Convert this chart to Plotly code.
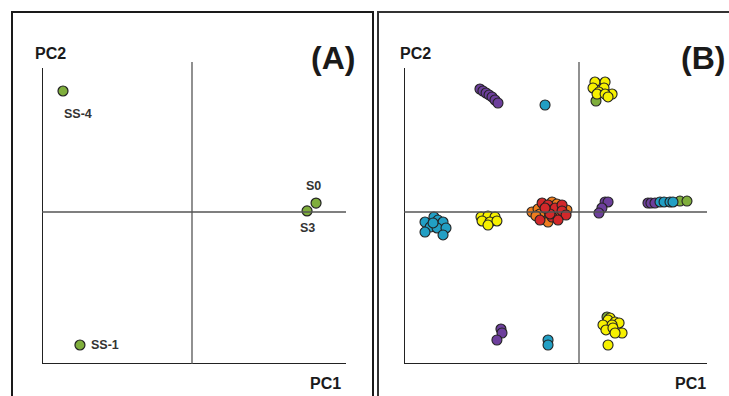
import plotly.graph_objects as go

W, H = 729, 396

# ---------------- Panel A data (PCA scores) ----------------
a_labels = ["SS-4", "SS-1", "S0", "S3"]
a_pc1 = [-0.86, -0.747, 0.827, 0.767]
a_pc2 = [0.796, -0.875, 0.059, 0.007]

# ---------------- Panel B data (PCA scores by group colour) ----------------
b_green_pc1 = [0.097, 0.16, 0.577, 0.617]
b_green_pc2 = [0.730, -0.691, 0.072, 0.072]

b_purple_pc1 = [-0.566, -0.549, -0.531, -0.514, -0.497, -0.48, -0.463,
                0.149, 0.166, 0.131, 0.114,
                0.394, 0.411, 0.434,
                -0.446, -0.44, -0.469]
b_purple_pc2 = [0.809, 0.796, 0.783, 0.770, 0.757, 0.737, 0.717,
                0.066, 0.066, 0.026, -0.007,
                0.059, 0.059, 0.059,
                -0.77, -0.796, -0.842]

b_cyan_pc1 = [-0.194,
              -0.88, -0.829, -0.806, -0.777, -0.851, -0.811, -0.76, -0.88, -0.777, -0.834,
              0.463, 0.486, 0.52, 0.537,
              -0.177, -0.177]
b_cyan_pc2 = [0.704,
              -0.066, -0.033, -0.053, -0.066, -0.099, -0.105, -0.105, -0.132, -0.151, -0.072,
              0.066, 0.066, 0.066, 0.066,
              -0.842, -0.875]

b_yellow_pc1 = [0.091, 0.149, 0.08, 0.143, 0.114, 0.189, 0.103, 0.149, 0.166,
                -0.56, -0.52, -0.48, -0.554, -0.509, -0.469, -0.52,
                0.177, 0.166, 0.206, 0.229, 0.137, 0.189, 0.154, 0.194, 0.246, 0.206, 0.166]
b_yellow_pc2 = [0.855, 0.855, 0.816, 0.816, 0.789, 0.776, 0.776, 0.776, 0.757,
                -0.033, -0.026, -0.033, -0.059, -0.066, -0.059, -0.086,
                -0.697, -0.711, -0.724, -0.730, -0.743, -0.743, -0.776, -0.763, -0.796, -0.796, -0.875]

b_orange_pc1 = [-0.269, -0.234, -0.194, -0.154, -0.126, -0.206, -0.177, -0.223, -0.109, -0.069, -0.246]
b_orange_pc2 = [0.0, 0.02, 0.0, 0.066, 0.053, -0.046, -0.066, -0.013, -0.007, 0.013, -0.026]

b_red_pc1 = [-0.211, -0.177, -0.137, -0.097, -0.097, -0.074, -0.154, -0.12, -0.166, -0.223, -0.194]
b_red_pc2 = [0.059, 0.046, 0.026, 0.046, 0.007, -0.020, -0.033, -0.053, -0.013, -0.053, 0.026]

panel_titles = ["(A)", "(B)"]
axis_names = ["PC1", "PC2"]

# ---------------- styling ----------------
GREEN = "#7fae3c"
PURPLE = "#6d3f9c"
CYAN = "#229fc4"
YELLOW = "#f6f000"
ORANGE = "#ef7d1e"
RED = "#d2282a"
EDGE = "#222222"
AXC = "#222222"
CTR = "#555555"

fig = go.Figure()

def px_x(p):
    return p / W

def px_y(p):
    return 1 - p / H

# axis layout
xa_range = [-1.0, 1.0267]
xb_range = [-1.0, 0.7314]
y_range = [-1.0, 0.9868]
y_axis_top = 0.947

fig.update_layout(
    width=W, height=H,
    margin=dict(l=0, r=0, t=0, b=0),
    paper_bgcolor="white", plot_bgcolor="rgba(0,0,0,0)",
    showlegend=False,
    xaxis=dict(domain=[px_x(42), px_x(346)], range=xa_range, visible=False, fixedrange=True),
    yaxis=dict(domain=[px_y(364), px_y(62)], range=y_range, visible=False, fixedrange=True),
    xaxis2=dict(domain=[px_x(404), px_x(707)], range=xb_range, visible=False, fixedrange=True),
    yaxis2=dict(domain=[px_y(364), px_y(62)], range=y_range, visible=False, fixedrange=True, anchor="x2"),
)

shapes = []
# panel borders
shapes.append(dict(type="rect", xref="paper", yref="paper", x0=px_x(12), x1=px_x(373),
                   y0=px_y(420), y1=px_y(12), line=dict(color="#1a1a1a", width=2)))
shapes.append(dict(type="rect", xref="paper", yref="paper", x0=px_x(378), x1=px_x(760),
                   y0=px_y(420), y1=px_y(12), line=dict(color="#333333", width=2)))

for xr, yr, xrng in [("x", "y", xa_range), ("x2", "y2", xb_range)]:
    # left axis
    shapes.append(dict(type="line", xref=xr, yref=yr, x0=xrng[0], x1=xrng[0],
                       y0=y_range[0], y1=y_axis_top, line=dict(color=AXC, width=2)))
    # bottom axis
    shapes.append(dict(type="line", xref=xr, yref=yr, x0=xrng[0], x1=xrng[1],
                       y0=y_range[0], y1=y_range[0], line=dict(color=AXC, width=2)))
    # centre lines
    shapes.append(dict(type="line", xref=xr, yref=yr, x0=0, x1=0,
                       y0=y_range[0], y1=y_range[1], line=dict(color=CTR, width=1.3)))
    shapes.append(dict(type="line", xref=xr, yref=yr, x0=xrng[0], x1=xrng[1],
                       y0=0, y1=0, line=dict(color=CTR, width=1.3)))
fig.update_layout(shapes=shapes)

# Panel A points
fig.add_trace(go.Scatter(x=a_pc1, y=a_pc2, mode="markers", xaxis="x", yaxis="y",
                         marker=dict(size=10, color=GREEN, line=dict(color=EDGE, width=1.2)),
                         cliponaxis=False, hoverinfo="skip"))

# Panel B points
for xs, ys, col in [(b_green_pc1, b_green_pc2, GREEN),
                    (b_purple_pc1, b_purple_pc2, PURPLE),
                    (b_cyan_pc1, b_cyan_pc2, CYAN),
                    (b_yellow_pc1, b_yellow_pc2, YELLOW),
                    (b_orange_pc1, b_orange_pc2, ORANGE),
                    (b_red_pc1, b_red_pc2, RED)]:
    fig.add_trace(go.Scatter(x=xs, y=ys, mode="markers", xaxis="x2", yaxis="y2",
                             marker=dict(size=10, color=col, line=dict(color=EDGE, width=1.1)),
                             cliponaxis=False, hoverinfo="skip"))

ann = []
lab_font = dict(family="Liberation Sans, Arial", size=12.5, color="#333333")
# point labels in panel A (offsets in pixels)
offsets = {"SS-4": (-1, -14, "left", "top"),
           "SS-1": (9, 0, "left", "middle"),
           "S0": (-3, 8, "center", "bottom"),
           "S3": (0, -8, "center", "top")}
for lab, xv, yv in zip(a_labels, a_pc1, a_pc2):
    dx, dy, xa, ya = offsets[lab]
    ann.append(dict(x=xv, y=yv, xref="x", yref="y", text=f"<b>{lab}</b>", showarrow=False,
                    xanchor=xa, yanchor=ya, xshift=dx, yshift=dy, font=lab_font))

pc_font = dict(family="Liberation Sans, Arial", size=16, color="#1a1a1a")
title_font = dict(family="Liberation Sans, Arial", size=32, color="#1a1a1a")
# PC labels and panel titles
for (pc2x, pc1x) in [(33, 343), (398, 708)]:
    ann.append(dict(x=px_x(pc2x), y=px_y(53), xref="paper", yref="paper", text=f"<b>{axis_names[1]}</b>",
                    showarrow=False, xanchor="left", yanchor="middle", font=pc_font))
    ann.append(dict(x=px_x(pc1x), y=px_y(383), xref="paper", yref="paper", text=f"<b>{axis_names[0]}</b>",
                    showarrow=False, xanchor="right", yanchor="middle", font=pc_font))
for t, titx in zip(panel_titles, [357, 727]):
    ann.append(dict(x=px_x(titx), y=px_y(58), xref="paper", yref="paper", text=f"<b>{t}</b>",
                    showarrow=False, xanchor="right", yanchor="middle", font=title_font))
fig.update_layout(annotations=ann)

fig.write_html("out.html", config={"displayModeBar": False},
               post_script="document.body.style.margin='0';document.body.style.padding='0';")
